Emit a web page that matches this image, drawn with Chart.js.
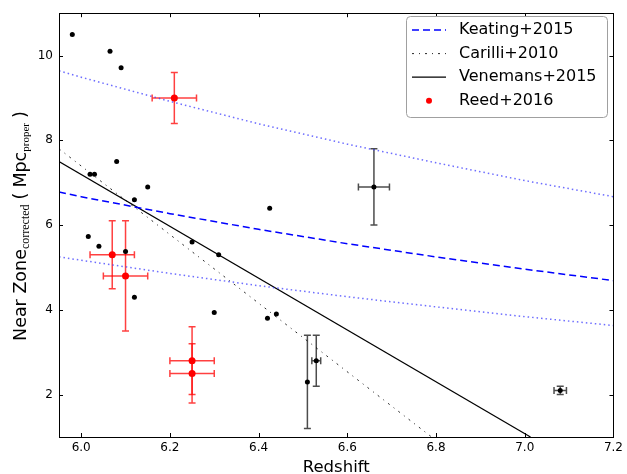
<!DOCTYPE html>
<html>
<head>
<meta charset="utf-8">
<script src="https://cdn.jsdelivr.net/npm/chart.js@4.4.1/dist/chart.umd.min.js"></script>
<style>
  body { margin: 0; background: #fff; }
  canvas { display: block; }
</style>
</head>
<body>
<canvas id="nearZoneChart" width="627" height="474"></canvas>
<script>
// axis ticks
const xTicks = [6.0, 6.2, 6.4, 6.6, 6.8, 7.0, 7.2];
const yTicks = [2, 4, 6, 8, 10];

// model relations
const keatingZ = [5.95, 6.0, 6.2, 6.4, 6.6, 6.8, 7.0, 7.2];
const keatingR = [6.78, 6.67, 6.27, 5.90, 5.56, 5.25, 4.96, 4.69];
const keatingHi = [9.64, 9.49, 8.92, 8.39, 7.91, 7.47, 7.05, 6.67];
const keatingLo = [5.25, 5.17, 4.86, 4.57, 4.31, 4.07, 3.84, 3.63];
const carilliZ = [5.95, 6.79];
const carilliR = [7.8, 1.0];
const venemansZ = [5.95, 7.013];
const venemansR = [7.5, 1.0];

// quasars without error bars
const qsoZ = [5.98, 6.065, 6.09, 6.08, 6.02, 6.03, 6.12, 6.15, 6.425, 6.016, 6.04, 6.10, 6.12, 6.25, 6.31, 6.30, 6.42, 6.44];
const qsoR = [10.5, 10.1, 9.71, 7.5, 7.2, 7.2, 6.6, 6.9, 6.4, 5.73, 5.5, 5.38, 4.3, 5.6, 5.3, 3.94, 3.8, 3.9];

// quasars with error bars
const errZ = [6.51, 6.53, 6.66, 7.08];
const errR = [2.3, 2.8, 6.9, 2.1];
const errZErr = [0, 0.01, 0.035, 0.014];
const errRErr = [1.1, 0.6, 0.9, 0.1];

// Reed+2016
const reedZ = [6.21, 6.07, 6.10, 6.25, 6.25];
const reedR = [9.0, 5.3, 4.8, 2.8, 2.5];
const reedZErr = [0.05, 0.05, 0.05, 0.05, 0.05];
const reedRErr = [0.6, 0.8, 1.3, 0.8, 0.7];

const FONT = '"DejaVu Sans", sans-serif';

function toPoints(xs, ys) {
    return xs.map((x, i) => ({ x: x, y: ys[i] }));
}

function lineSet(label, xs, ys, color, dash, width) {
    return {
        label: label,
        data: toPoints(xs, ys),
        showLine: true,
        borderColor: color,
        borderWidth: width,
        borderDash: dash,
        pointRadius: 0,
        fill: false
    };
}

// error bars drawn under each dataset's markers
const errorBarPlugin = {
    id: 'errorBars',
    beforeDatasetDraw(chart, args) {
        const ds = chart.data.datasets[args.index];
        if (!ds.xErr) return;
        const ctx = chart.ctx;
        const xs = chart.scales.x, ys = chart.scales.y;
        const cap = 3.5;
        ctx.save();
        ctx.strokeStyle = ds.errColor;
        ctx.lineWidth = 1.5;
        ds.data.forEach((p, i) => {
            const px = xs.getPixelForValue(p.x);
            const py = ys.getPixelForValue(p.y);
            const dx = ds.xErr[i], dy = ds.yErr[i];
            ctx.beginPath();
            if (dy > 0) {
                const y1 = ys.getPixelForValue(p.y + dy);
                const y2 = ys.getPixelForValue(p.y - dy);
                ctx.moveTo(px, y1); ctx.lineTo(px, y2);
                ctx.moveTo(px - cap, y1); ctx.lineTo(px + cap, y1);
                ctx.moveTo(px - cap, y2); ctx.lineTo(px + cap, y2);
            }
            if (dx > 0) {
                const x1 = xs.getPixelForValue(p.x - dx);
                const x2 = xs.getPixelForValue(p.x + dx);
                ctx.moveTo(x1, py); ctx.lineTo(x2, py);
                ctx.moveTo(x1, py - cap); ctx.lineTo(x1, py + cap);
                ctx.moveTo(x2, py - cap); ctx.lineTo(x2, py + cap);
            }
            ctx.stroke();
        });
        ctx.restore();
    }
};

// frame, inward ticks, legend box and y title
const framePlugin = {
    id: 'frame',
    afterDraw(chart) {
        const ctx = chart.ctx;
        const a = chart.chartArea;
        const xs = chart.scales.x, ys = chart.scales.y;
        ctx.save();
        ctx.strokeStyle = '#000';
        ctx.lineWidth = 1;
        ctx.strokeRect(Math.round(a.left) + 0.5, Math.round(a.top) + 0.5,
            Math.round(a.right - a.left), Math.round(a.bottom - a.top));
        ctx.beginPath();
        xTicks.forEach(v => {
            const px = Math.round(xs.getPixelForValue(v)) + 0.5;
            ctx.moveTo(px, a.bottom); ctx.lineTo(px, a.bottom - 4);
            ctx.moveTo(px, a.top); ctx.lineTo(px, a.top + 4);
        });
        yTicks.forEach(v => {
            const py = Math.round(ys.getPixelForValue(v)) + 0.5;
            ctx.moveTo(a.left, py); ctx.lineTo(a.left + 4, py);
            ctx.moveTo(a.right, py); ctx.lineTo(a.right - 4, py);
        });
        ctx.stroke();

        // legend
        const lx = 406, ly = 16, lw = 201, lh = 101;
        ctx.beginPath();
        ctx.roundRect(lx + 0.5, ly + 0.5, lw, lh, 4);
        ctx.fillStyle = '#fff';
        ctx.fill();
        ctx.strokeStyle = '#a0a0a0';
        ctx.stroke();
        const entries = chart.data.datasets.filter(d => d.inLegend);
        ctx.font = '16px ' + FONT;
        ctx.textBaseline = 'middle';
        entries.forEach((d, i) => {
            const y = ly + 14 + i * 23.6;
            if (d.showLine) {
                ctx.beginPath();
                ctx.setLineDash(d.borderDash || []);
                ctx.strokeStyle = d.borderColor;
                ctx.lineWidth = d.borderWidth;
                ctx.moveTo(412, y); ctx.lineTo(446, y);
                ctx.stroke();
                ctx.setLineDash([]);
            } else {
                ctx.beginPath();
                ctx.fillStyle = d.backgroundColor;
                ctx.arc(429, y, 3, 0, Math.PI * 2);
                ctx.fill();
            }
            ctx.fillStyle = '#000';
            ctx.fillText(d.label, 459, y);
        });

        // y axis title with subscripts
        const parts = [
            { t: 'Near Zone', f: '17.5px ' + FONT, dy: 0, gap: 0 },
            { t: 'corrected', f: '12px "Liberation Serif", serif', dy: 3, gap: 0 },
            { t: '(', f: '17.5px ' + FONT, dy: 0, gap: 5 },
            { t: 'Mpc', f: '17.5px ' + FONT, dy: 0, gap: 5 },
            { t: 'proper', f: '11px "Liberation Serif", serif', dy: 3, gap: 0 },
            { t: ')', f: '17.5px ' + FONT, dy: 0, gap: 5 }
        ];
        let total = 0;
        parts.forEach(p => { ctx.font = p.f; p.w = ctx.measureText(p.t).width; total += p.gap + p.w; });
        ctx.translate(25.5, (a.top + a.bottom) / 2 + 1);
        ctx.rotate(-Math.PI / 2);
        ctx.fillStyle = '#000';
        ctx.textBaseline = 'alphabetic';
        let x = -total / 2;
        parts.forEach(p => {
            x += p.gap;
            ctx.font = p.f;
            ctx.fillText(p.t, x, p.dy);
            x += p.w;
        });
        ctx.restore();
    }
};

const datasets = [
    lineSet('Keating+2015', keatingZ, keatingR, '#0000ff', [7, 4], 1.5),
    lineSet('keating_hi', keatingZ, keatingHi, 'rgba(60,60,255,0.75)', [1.5, 3], 1.5),
    lineSet('keating_lo', keatingZ, keatingLo, 'rgba(60,60,255,0.75)', [1.5, 3], 1.5),
    lineSet('Carilli+2010', carilliZ, carilliR, 'rgba(0,0,0,0.85)', [2, 5, 1, 5], 1),
    lineSet('Venemans+2015', venemansZ, venemansR, '#000', [], 1.2),
    {
        label: 'qso',
        data: toPoints(qsoZ, qsoR),
        pointRadius: 2.5,
        pointBackgroundColor: '#000',
        pointBorderWidth: 0
    },
    {
        label: 'qso_err',
        data: toPoints(errZ, errR),
        pointRadius: 2.5,
        pointBackgroundColor: '#000',
        pointBorderWidth: 0,
        xErr: errZErr,
        yErr: errRErr,
        errColor: 'rgba(0,0,0,0.7)'
    },
    {
        label: 'Reed+2016',
        data: toPoints(reedZ, reedR),
        pointRadius: 3.5,
        backgroundColor: '#ff0000',
        pointBackgroundColor: '#ff0000',
        pointBorderWidth: 0,
        xErr: reedZErr,
        yErr: reedRErr,
        errColor: 'rgba(255,0,0,0.75)'
    }
];
['Keating+2015', 'Carilli+2010', 'Venemans+2015', 'Reed+2016'].forEach(name => {
    datasets.find(d => d.label === name).inLegend = true;
});

new Chart(document.getElementById('nearZoneChart'), {
    type: 'scatter',
    data: { datasets: datasets },
    options: {
        responsive: false,
        animation: false,
        devicePixelRatio: 1,
        layout: { padding: { top: 8, right: 11, bottom: 0, left: 0 } },
        plugins: {
            legend: { display: false },
            tooltip: { enabled: false }
        },
        scales: {
            x: {
                type: 'linear',
                min: 5.95,
                max: 7.2,
                afterFit: s => { s.height = 37; },
                afterBuildTicks: s => { s.ticks = xTicks.map(v => ({ value: v })); },
                grid: { display: false, drawTicks: false },
                border: { display: false },
                ticks: {
                    color: '#000',
                    font: { family: FONT, size: 12 },
                    padding: 4,
                    maxRotation: 0,
                    autoSkip: false,
                    callback: v => v.toFixed(1)
                },
                title: {
                    display: true,
                    text: 'Redshift',
                    color: '#000',
                    font: { family: FONT, size: 16.5, lineHeight: 1 },
                    padding: { top: 0, bottom: -2 }
                }
            },
            y: {
                type: 'linear',
                min: 1,
                max: 11,
                afterFit: s => { s.width = 59; },
                afterBuildTicks: s => { s.ticks = yTicks.map(v => ({ value: v })); },
                grid: { display: false, drawTicks: false },
                border: { display: false },
                ticks: {
                    color: '#000',
                    font: { family: FONT, size: 12 },
                    padding: 6,
                    autoSkip: false,
                    callback: v => String(v)
                }
            }
        }
    },
    plugins: [errorBarPlugin, framePlugin]
});
</script>
</body>
</html>
